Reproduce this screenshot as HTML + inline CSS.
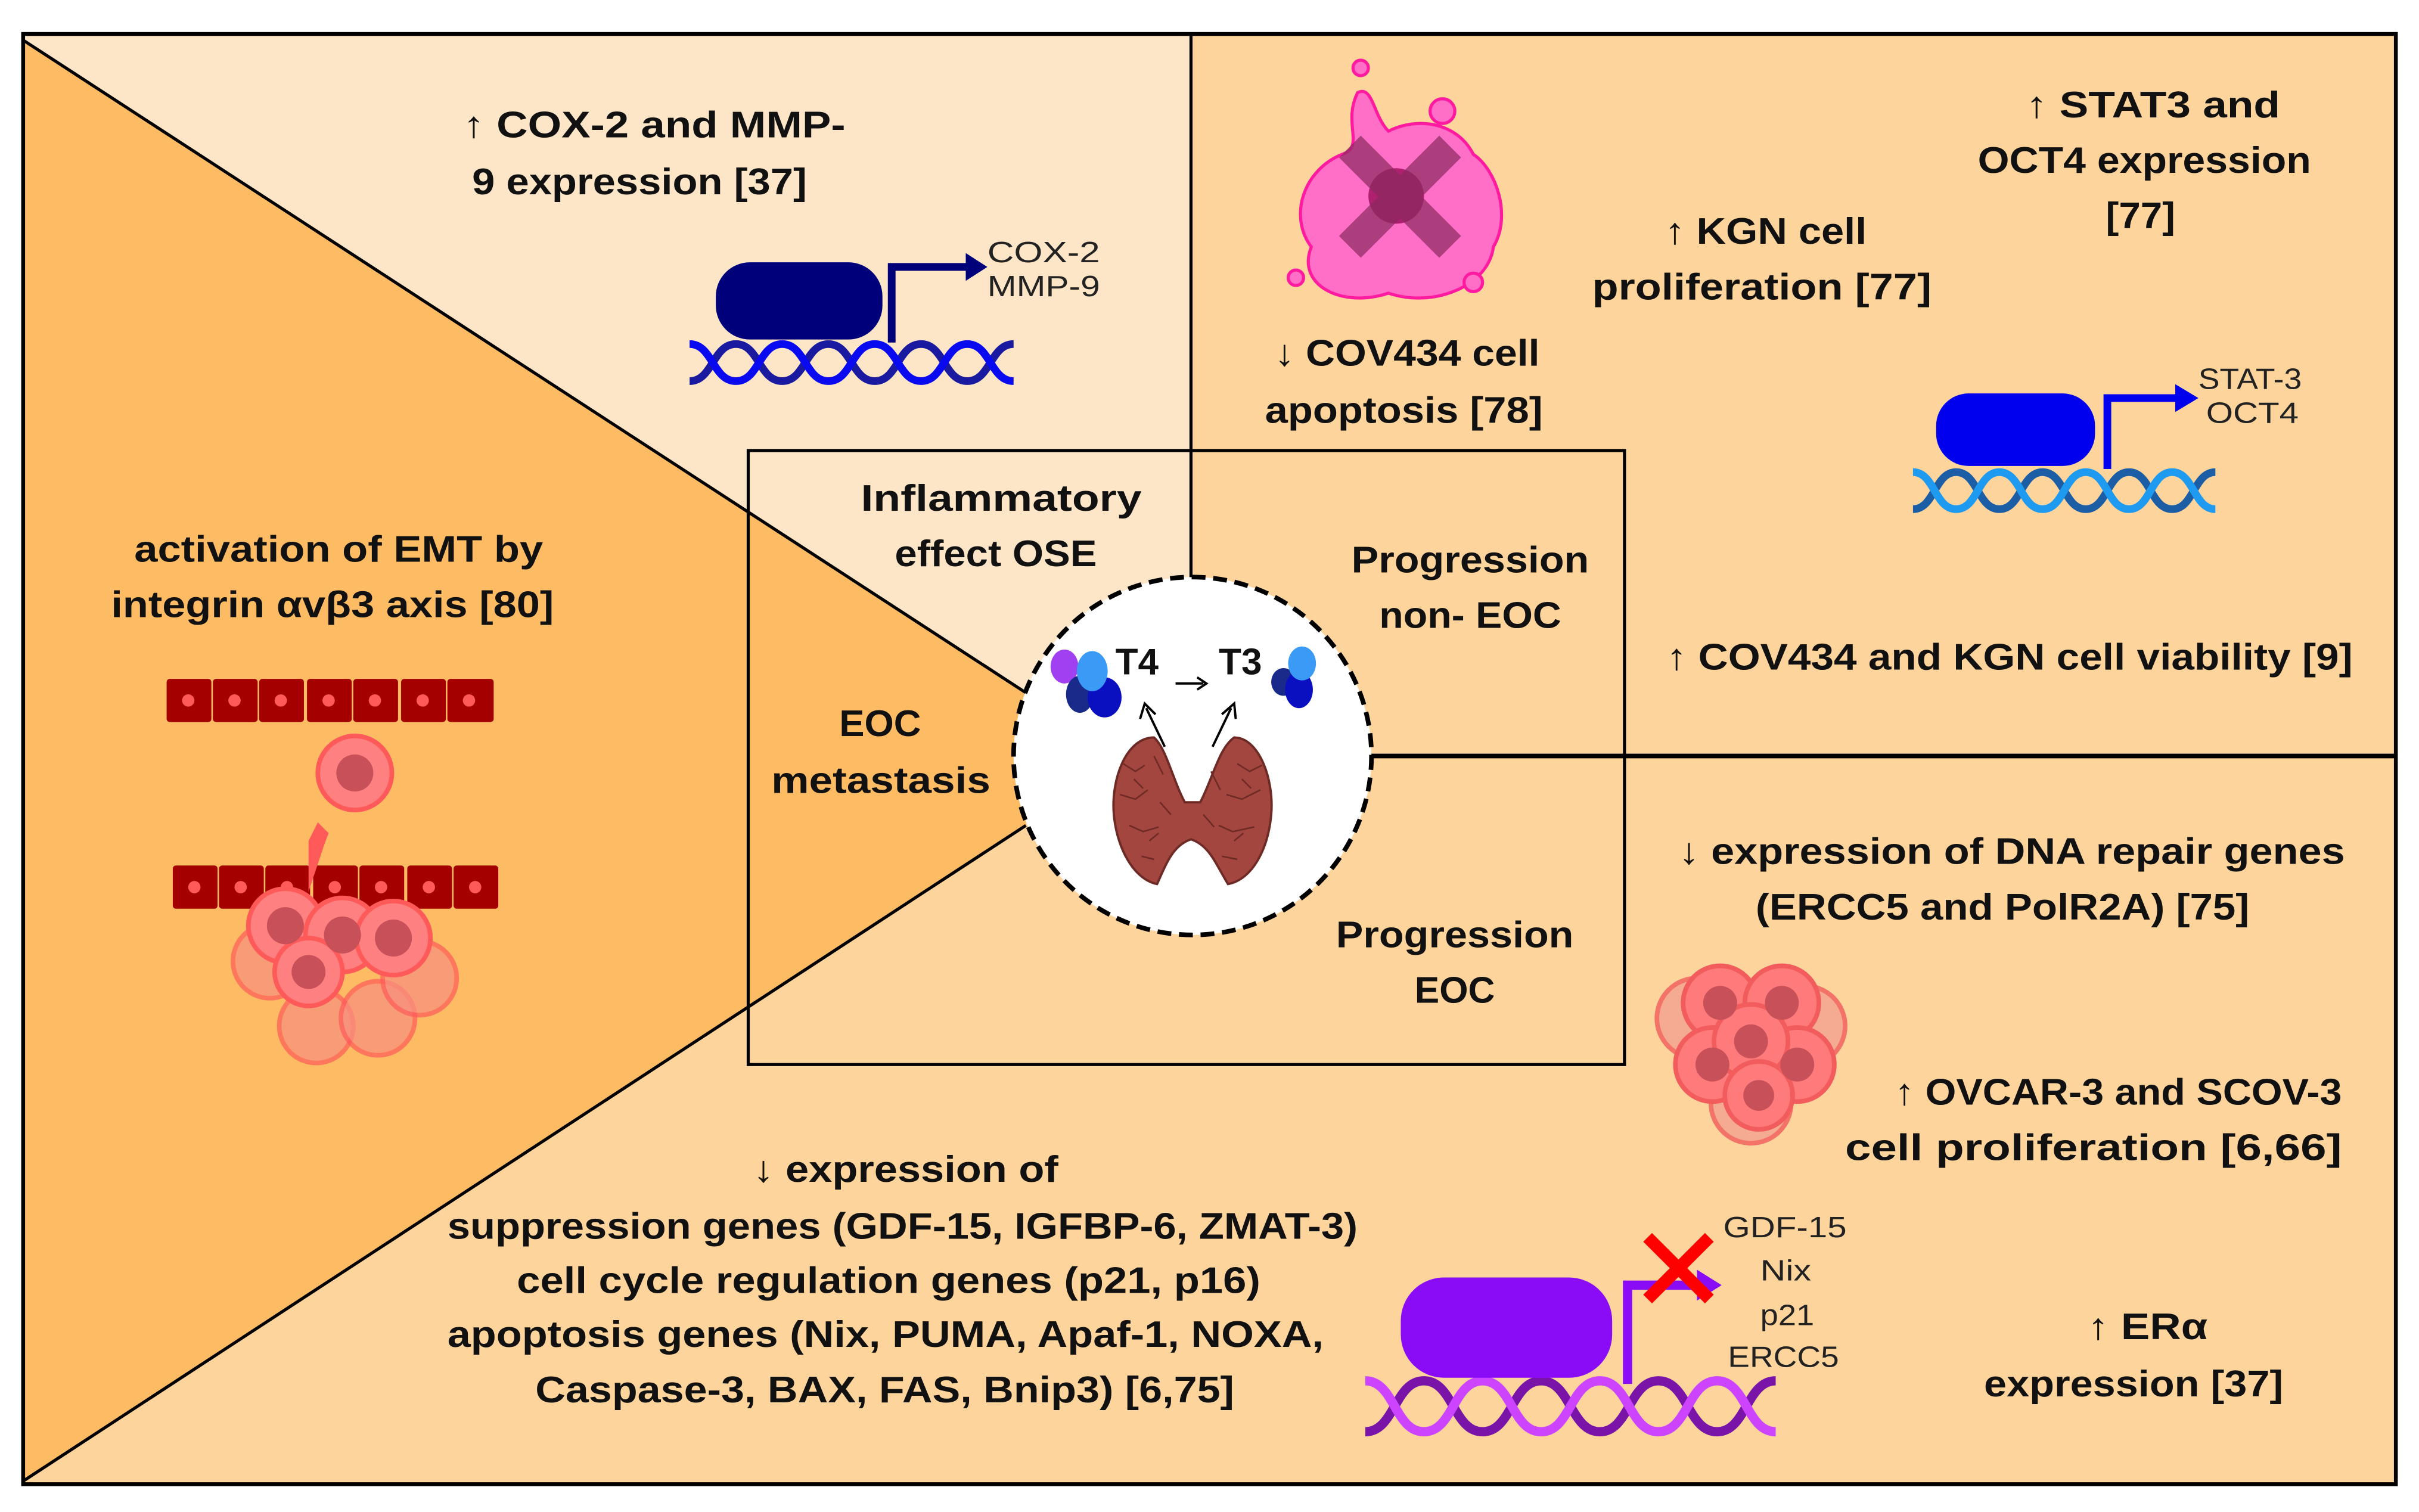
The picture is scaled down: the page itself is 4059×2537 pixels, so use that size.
<!DOCTYPE html>
<html><head><meta charset="utf-8"><style>
html,body{margin:0;padding:0;background:#fff;}
svg{display:block;}
.b{font-family:"Liberation Sans",sans-serif;font-weight:bold;font-size:24px;fill:#111;}
.t{font-family:"Liberation Sans",sans-serif;font-size:19px;fill:#222;}
</style></head><body>
<svg xmlns="http://www.w3.org/2000/svg" width="4059" height="2537" viewBox="0 0 1568 980">
<rect width="1568" height="980" fill="#fff"/>
<rect x="15" y="22" width="1538" height="940" fill="#fdd49c"/>
<polygon points="15,22 772,22 772,292 485,292 485,334 15,26" fill="#fde6c8"/>
<polygon points="15,26 485,331 485,292 772,292 772,440 665,449" fill="#fde6c8"/>
<polygon points="15,26 665,449 665,535 15,960" fill="#fdbb63"/>
<line x1="15" y1="26" x2="665" y2="449" stroke="#000" stroke-width="2"/>
<line x1="15" y1="960" x2="665" y2="535" stroke="#000" stroke-width="2"/>
<line x1="772" y1="22" x2="772" y2="380" stroke="#000" stroke-width="2"/>
<line x1="880" y1="490" x2="1553" y2="490" stroke="#000" stroke-width="3"/>
<rect x="485" y="292" width="568" height="398" fill="none" stroke="#000" stroke-width="2"/>
<rect x="15" y="22" width="1538" height="940" fill="none" stroke="#000" stroke-width="2.5"/>

<circle cx="773" cy="490" r="116" fill="#fff" stroke="#000" stroke-width="3" stroke-dasharray="9,5"/>
<path d="M748,478 C730,478 720,505 722,528 C724,550 735,570 750,573 C756,560 760,548 772,544 C784,548 788,560 796,573 C812,570 822,550 824,528 C826,505 816,478 800,478 C790,485 786,505 778,520 L768,520 C760,505 756,485 748,478 Z" fill="#a3463f" stroke="#6e2a25" stroke-width="1.5"/>
<g fill="none" stroke="#6e2a25" stroke-width="1">
<path d="M728,495 l8,5 l6,-4 M726,515 l10,3 l8,-6 M732,535 l9,4 l10,-3 M740,555 l8,2 M748,490 l6,12 M752,520 l7,8 M735,505 l6,6 M745,545 l6,-5"/>
<path d="M802,495 l8,5 l8,-4 M795,515 l10,3 l12,-6 M790,535 l9,4 l14,-3 M792,555 l10,2 M785,500 l6,12 M780,528 l7,8 M805,505 l6,6 M800,545 l6,-5"/>
</g>
<text x="723" y="437" class="b" font-size="21">T4</text>
<text x="790" y="437" class="b" font-size="21">T3</text>
<line x1="762" y1="443" x2="780" y2="443" stroke="#000" stroke-width="1.5"/>
<path d="M776,439 L782,443 L776,447" fill="none" stroke="#000" stroke-width="1.5"/>
<line x1="755" y1="484" x2="743" y2="459" stroke="#000" stroke-width="1.5"/>
<path d="M739,466 L742,456 L749,463" fill="none" stroke="#000" stroke-width="1.5"/>
<line x1="786" y1="484" x2="798" y2="459" stroke="#000" stroke-width="1.5"/>
<path d="M792,463 L800,456 L801,466" fill="none" stroke="#000" stroke-width="1.5"/>
<ellipse cx="690" cy="432" rx="9" ry="11" fill="#a040f0"/>
<ellipse cx="700" cy="450" rx="9" ry="12" fill="#1a2a8a"/>
<ellipse cx="716" cy="452" rx="11" ry="13" fill="#0a10c0"/>
<ellipse cx="708" cy="435" rx="10" ry="13" fill="#3a9af5"/>
<ellipse cx="832" cy="442" rx="8" ry="9" fill="#1a2a8a"/>
<ellipse cx="842" cy="447" rx="9" ry="12" fill="#0a10c0"/>
<ellipse cx="844" cy="430" rx="9" ry="11" fill="#3a9af5"/>

<!-- gene 1 -->
<g fill="none" stroke-width="5">
<path stroke="#1a1aa0" d="M447,247 C462,247 462,223 477,223 S492,247 507,247 S522,223 537,223 S552,247 567,247 S582,223 597,223 S612,247 627,247 S642,223 657,223"/>
<path stroke="#0a0af0" d="M447,223 C462,223 462,247 477,247 S492,223 507,223 S522,247 537,247 S552,223 567,223 S582,247 597,247 S612,223 627,223 S642,247 657,247"/>
</g>
<rect x="464" y="170" width="108" height="50" rx="22" fill="#00007a"/>
<path d="M578,222 V173 H628" fill="none" stroke="#00007a" stroke-width="5"/>
<polygon points="626,164 640,173 626,182" fill="#00007a"/>
<text x="640" y="170" class="t" textLength="73" lengthAdjust="spacingAndGlyphs">COX-2</text>
<text x="640" y="192" class="t" textLength="73" lengthAdjust="spacingAndGlyphs">MMP-9</text>

<!-- gene 2 -->
<g fill="none" stroke-width="5">
<path stroke="#1c5ea6" d="M1240,330 C1254,330 1254,306 1268,306 S1282,330 1296,330 S1310,306 1324,306 S1338,330 1352,330 S1366,306 1380,306 S1394,330 1408,330 S1422,306 1436,306"/>
<path stroke="#1e9af0" d="M1240,306 C1254,306 1254,330 1268,330 S1282,306 1296,306 S1310,330 1324,330 S1338,306 1352,306 S1366,330 1380,330 S1394,306 1408,306 S1422,330 1436,330"/>
</g>
<rect x="1255" y="255" width="103" height="47" rx="21" fill="#0000ee"/>
<path d="M1366,304 V258 H1412" fill="none" stroke="#0000ee" stroke-width="5"/>
<polygon points="1410,249 1425,258 1410,267" fill="#0000ee"/>
<text x="1425" y="252" class="t" textLength="67" lengthAdjust="spacingAndGlyphs">STAT-3</text>
<text x="1430" y="274" class="t" textLength="60" lengthAdjust="spacingAndGlyphs">OCT4</text>

<!-- gene 3 -->
<g fill="none" stroke-width="6">
<path stroke="#7a14a8" d="M885,928 C904,928 904,895 923,895 S942,928 961,928 S980,895 999,895 S1018,928 1037,928 S1056,895 1075,895 S1094,928 1113,928 S1132,895 1151,895"/>
<path stroke="#cc44ff" d="M885,895 C904,895 904,928 923,928 S942,895 961,895 S980,928 999,928 S1018,895 1037,895 S1056,928 1075,928 S1094,895 1113,895 S1132,928 1151,928"/>
</g>
<rect x="908" y="828" width="137" height="65" rx="28" fill="#8a0cf7"/>
<path d="M1055,897 V833 H1102" fill="none" stroke="#8a0cf7" stroke-width="6"/>
<polygon points="1100,823 1116,833 1100,843" fill="#8a0cf7"/>
<path d="M1068,802 L1108,842 M1108,802 L1068,842" stroke="#f00" stroke-width="8"/>
<text x="1117" y="802" class="t" textLength="80" lengthAdjust="spacingAndGlyphs">GDF-15</text>
<text x="1141" y="830" class="t" textLength="33" lengthAdjust="spacingAndGlyphs">Nix</text>
<text x="1141" y="859" class="t" textLength="35" lengthAdjust="spacingAndGlyphs">p21</text>
<text x="1120" y="886" class="t" textLength="72" lengthAdjust="spacingAndGlyphs">ERCC5</text>

<!-- apoptotic cell -->
<g>
<path d="M880,60 C870,80 885,95 870,100 C845,110 835,140 850,160 C840,185 870,200 900,190 C930,200 965,185 968,160 C980,140 970,110 955,100 C945,80 920,75 900,85 C890,75 890,55 880,60 Z" fill="#ff6ec7" stroke="#ff1aa0" stroke-width="2"/>
<circle cx="882" cy="44" r="5" fill="#ff6ec7" stroke="#ff1aa0" stroke-width="2"/>
<circle cx="935" cy="72" r="8" fill="#ff6ec7" stroke="#ff1aa0" stroke-width="2"/>
<circle cx="840" cy="180" r="5" fill="#ff6ec7" stroke="#ff1aa0" stroke-width="2"/>
<circle cx="955" cy="183" r="6" fill="#ff6ec7" stroke="#ff1aa0" stroke-width="2"/>
<circle cx="905" cy="127" r="18" fill="#b02070"/>
<path d="M875,95 L940,160 M940,95 L875,160" stroke="#8a2a60" stroke-opacity="0.7" stroke-width="20"/>
</g>

<!-- right cluster -->
<g stroke="#f25c5c" stroke-width="3">
<circle cx="1100" cy="660" r="26" fill="#f4a090" opacity="0.8"/>
<circle cx="1170" cy="665" r="26" fill="#f4a090" opacity="0.8"/>
<circle cx="1135" cy="715" r="26" fill="#f4a090" opacity="0.8"/>
<circle cx="1115" cy="650" r="24" fill="#ff7b7b"/>
<circle cx="1155" cy="650" r="24" fill="#ff7b7b"/>
<circle cx="1110" cy="690" r="24" fill="#ff7b7b"/>
<circle cx="1165" cy="690" r="24" fill="#ff7b7b"/>
<circle cx="1135" cy="675" r="24" fill="#ff7b7b"/>
<circle cx="1140" cy="710" r="22" fill="#ff7b7b"/>
</g>
<g fill="#c85058">
<circle cx="1115" cy="650" r="11"/><circle cx="1155" cy="650" r="11"/><circle cx="1110" cy="690" r="11"/><circle cx="1165" cy="690" r="11"/><circle cx="1135" cy="675" r="11"/><circle cx="1140" cy="710" r="10"/>
</g>

<!-- left epithelium -->
<g fill="#a50000">
<rect x="108" y="440" width="29" height="28" rx="2"/><rect x="138" y="440" width="29" height="28" rx="2"/><rect x="168" y="440" width="29" height="28" rx="2"/><rect x="199" y="440" width="29" height="28" rx="2"/><rect x="229" y="440" width="29" height="28" rx="2"/><rect x="260" y="440" width="29" height="28" rx="2"/><rect x="290" y="440" width="30" height="28" rx="2"/>
<rect x="112" y="561" width="29" height="28" rx="2"/><rect x="142" y="561" width="29" height="28" rx="2"/><rect x="172" y="561" width="29" height="28" rx="2"/><rect x="203" y="561" width="29" height="28" rx="2"/><rect x="233" y="561" width="29" height="28" rx="2"/><rect x="264" y="561" width="29" height="28" rx="2"/><rect x="294" y="561" width="29" height="28" rx="2"/>
</g>
<g fill="#ff5a5a">
<circle cx="122" cy="454" r="4"/><circle cx="152" cy="454" r="4"/><circle cx="182" cy="454" r="4"/><circle cx="213" cy="454" r="4"/><circle cx="243" cy="454" r="4"/><circle cx="274" cy="454" r="4"/><circle cx="304" cy="454" r="4"/>
<circle cx="126" cy="575" r="4"/><circle cx="156" cy="575" r="4"/><circle cx="186" cy="575" r="4"/><circle cx="217" cy="575" r="4"/><circle cx="247" cy="575" r="4"/><circle cx="278" cy="575" r="4"/><circle cx="308" cy="575" r="4"/>
<path d="M200,578 L210,548 L213,540 L206,533 L200,545 Z"/>
</g>
<g stroke="#ff5a5a" stroke-width="3">
<circle cx="175" cy="623" r="24" fill="#f79080" opacity="0.7"/>
<circle cx="205" cy="665" r="24" fill="#f79080" opacity="0.7"/>
<circle cx="245" cy="660" r="24" fill="#f79080" opacity="0.7"/>
<circle cx="272" cy="634" r="24" fill="#f79080" opacity="0.7"/>
<circle cx="230" cy="501" r="24" fill="#ff8080"/>
<circle cx="185" cy="600" r="24" fill="#ff8080"/>
<circle cx="222" cy="606" r="24" fill="#ff8080"/>
<circle cx="255" cy="608" r="24" fill="#ff8080"/>
<circle cx="200" cy="630" r="22" fill="#ff8080"/>
</g>
<g fill="#c85058">
<circle cx="230" cy="501" r="12"/><circle cx="185" cy="600" r="12"/><circle cx="222" cy="606" r="12"/><circle cx="255" cy="608" r="12"/><circle cx="200" cy="630" r="11"/>
</g>

<!-- texts -->
<text x="300" y="89" class="b" textLength="248" lengthAdjust="spacingAndGlyphs">↑ COX-2 and MMP-</text>
<text x="306" y="126" class="b" textLength="217" lengthAdjust="spacingAndGlyphs">9 expression [37]</text>
<text x="87" y="364" class="b" textLength="265" lengthAdjust="spacingAndGlyphs">activation of EMT by</text>
<text x="72" y="400" class="b" textLength="287" lengthAdjust="spacingAndGlyphs">integrin αvβ3 axis [80]</text>
<text x="558" y="331" class="b" textLength="182" lengthAdjust="spacingAndGlyphs">Inflammatory</text>
<text x="580" y="367" class="b" textLength="131" lengthAdjust="spacingAndGlyphs">effect OSE</text>
<text x="544" y="477" class="b" textLength="53" lengthAdjust="spacingAndGlyphs">EOC</text>
<text x="500" y="514" class="b" textLength="142" lengthAdjust="spacingAndGlyphs">metastasis</text>
<text x="876" y="371" class="b" textLength="154" lengthAdjust="spacingAndGlyphs">Progression</text>
<text x="894" y="407" class="b" textLength="118" lengthAdjust="spacingAndGlyphs">non- EOC</text>
<text x="866" y="614" class="b" textLength="154" lengthAdjust="spacingAndGlyphs">Progression</text>
<text x="917" y="650" class="b" textLength="52" lengthAdjust="spacingAndGlyphs">EOC</text>
<text x="826" y="237" class="b" textLength="172" lengthAdjust="spacingAndGlyphs">↓ COV434 cell</text>
<text x="820" y="274" class="b" textLength="180" lengthAdjust="spacingAndGlyphs">apoptosis [78]</text>
<text x="1079" y="158" class="b" textLength="131" lengthAdjust="spacingAndGlyphs">↑ KGN cell</text>
<text x="1032" y="194" class="b" textLength="220" lengthAdjust="spacingAndGlyphs">proliferation [77]</text>
<text x="1313" y="76" class="b" textLength="165" lengthAdjust="spacingAndGlyphs">↑ STAT3 and</text>
<text x="1282" y="112" class="b" textLength="216" lengthAdjust="spacingAndGlyphs">OCT4 expression</text>
<text x="1365" y="148" class="b" textLength="45" lengthAdjust="spacingAndGlyphs">[77]</text>
<text x="1080" y="434" class="b" textLength="445" lengthAdjust="spacingAndGlyphs">↑ COV434 and KGN cell viability [9]</text>
<text x="1088" y="560" class="b" textLength="432" lengthAdjust="spacingAndGlyphs">↓ expression of DNA repair genes</text>
<text x="1138" y="596" class="b" textLength="320" lengthAdjust="spacingAndGlyphs">(ERCC5  and  PolR2A) [75]</text>
<text x="1228" y="716" class="b" textLength="290" lengthAdjust="spacingAndGlyphs">↑ OVCAR-3 and SCOV-3</text>
<text x="1196" y="752" class="b" textLength="322" lengthAdjust="spacingAndGlyphs">cell proliferation [6,66]</text>
<text x="1353" y="868" class="b" textLength="78" lengthAdjust="spacingAndGlyphs">↑ ERα</text>
<text x="1286" y="905" class="b" textLength="194" lengthAdjust="spacingAndGlyphs">expression [37]</text>
<text x="488" y="766" class="b" textLength="198" lengthAdjust="spacingAndGlyphs">↓ expression of</text>
<text x="290" y="803" class="b" textLength="590" lengthAdjust="spacingAndGlyphs">suppression genes  (GDF-15, IGFBP-6, ZMAT-3)</text>
<text x="335" y="838" class="b" textLength="482" lengthAdjust="spacingAndGlyphs">cell cycle regulation genes  (p21, p16)</text>
<text x="290" y="873" class="b" textLength="568" lengthAdjust="spacingAndGlyphs">apoptosis genes (Nix, PUMA,  Apaf-1, NOXA,</text>
<text x="347" y="909" class="b" textLength="453" lengthAdjust="spacingAndGlyphs">Caspase-3,  BAX,  FAS,  Bnip3) [6,75]</text>
</svg>
</body></html>
